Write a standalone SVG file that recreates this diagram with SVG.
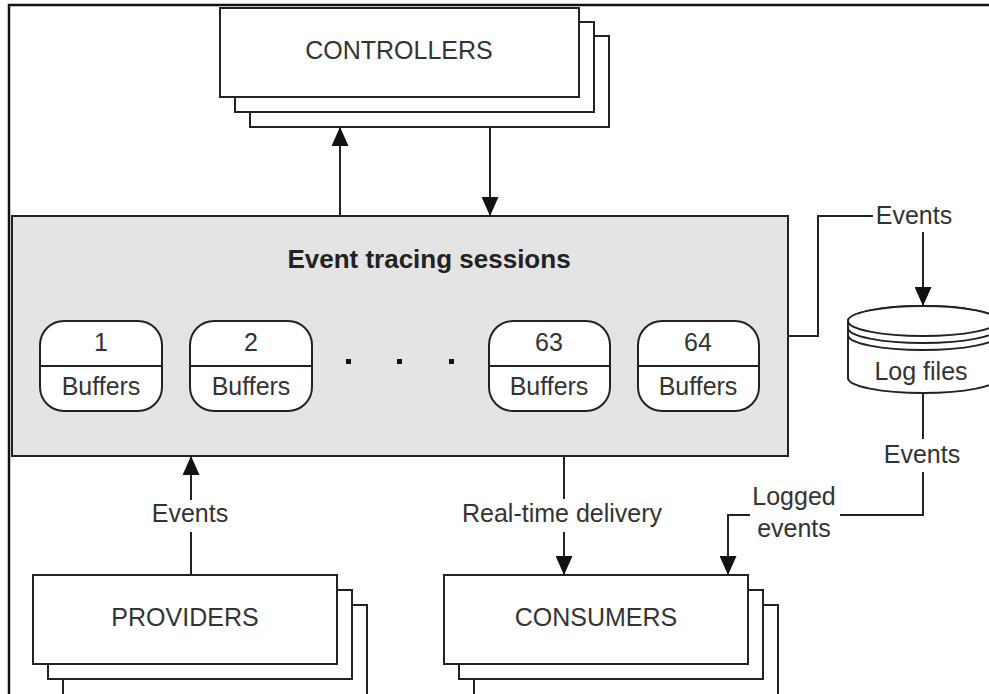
<svg xmlns="http://www.w3.org/2000/svg" width="989" height="694" viewBox="0 0 989 694">
  <style>
    .frame { fill: none; stroke: #111; stroke-width: 2.5; }
    .box { fill: #fff; stroke: #222; stroke-width: 2; }
    .session { fill: #e4e4e4; stroke: #222; stroke-width: 2; }
    .buf { fill: #fff; stroke: #222; stroke-width: 2; }
    .wire { fill: none; stroke: #222; stroke-width: 2; }
    text { font-family: "Liberation Sans", Arial, sans-serif; font-size: 25px; fill: #333; text-anchor: middle; }
    .title { font-weight: bold; font-size: 26px; fill: #222; }
    .dot { fill: #111; }
  </style>
  <defs>
    <marker id="arrow" markerUnits="userSpaceOnUse" markerWidth="20" markerHeight="17" refX="19" refY="8.5" orient="auto">
      <path d="M0,0 L19,8.5 L0,17 z" fill="#111"/>
    </marker>
  </defs>

  <rect width="989" height="694" fill="#fff"/>
  <!-- page frame (top and left edges only) -->
  <path class="frame" d="M9,694 V5 H989"/>

  <!-- controllers stack -->
  <g id="controllers">
    <rect class="box" x="250" y="36" width="359" height="91"/>
    <rect class="box" x="235" y="22" width="359" height="90"/>
    <rect class="box" x="220" y="8" width="359" height="89"/>
    <text x="399" y="59">CONTROLLERS</text>
  </g>

  <!-- event tracing sessions -->
  <g id="sessions">
    <rect class="session" x="12" y="216" width="776" height="240"/>
    <text class="title" x="429" y="268">Event tracing sessions</text>
    <rect class="dot" x="346" y="359" width="5" height="5"/>
    <rect class="dot" x="397" y="359" width="5" height="5"/>
    <rect class="dot" x="449" y="359" width="5" height="5"/>
  </g>

  <g id="buffer1">
    <rect class="buf" x="40" y="321" width="122" height="90" rx="24"/>
    <line class="wire" x1="40" y1="366" x2="162" y2="366"/>
    <text x="101" y="351">1</text>
    <text x="101" y="395">Buffers</text>
  </g>
  <g id="buffer2">
    <rect class="buf" x="190" y="321" width="122" height="90" rx="24"/>
    <line class="wire" x1="190" y1="366" x2="312" y2="366"/>
    <text x="251" y="351">2</text>
    <text x="251" y="395">Buffers</text>
  </g>
  <g id="buffer63">
    <rect class="buf" x="489" y="321" width="121" height="90" rx="24"/>
    <line class="wire" x1="489" y1="366" x2="610" y2="366"/>
    <text x="549" y="351">63</text>
    <text x="549" y="395">Buffers</text>
  </g>
  <g id="buffer64">
    <rect class="buf" x="638" y="321" width="121" height="90" rx="24"/>
    <line class="wire" x1="638" y1="366" x2="759" y2="366"/>
    <text x="698" y="351">64</text>
    <text x="698" y="395">Buffers</text>
  </g>

  <!-- log files cylinder -->
  <g id="logfiles">
    <path class="buf" d="M848,321 V378 A75,15 0 0 0 998,378 V321 A75,15 0 0 0 848,321 z"/>
    <ellipse class="buf" cx="923" cy="321" rx="75" ry="15"/>
    <path class="wire" d="M848,328 A75,15 0 0 0 998,328"/>
    <path class="wire" d="M848,335 A75,15 0 0 0 998,335"/>
    <text x="921" y="380">Log files</text>
  </g>

  <!-- providers stack -->
  <g id="providers">
    <rect class="box" x="63" y="605" width="304" height="100"/>
    <rect class="box" x="48" y="590" width="304" height="89"/>
    <rect class="box" x="33" y="575" width="304" height="89"/>
    <text x="185" y="626">PROVIDERS</text>
  </g>

  <!-- consumers stack -->
  <g id="consumers">
    <rect class="box" x="474" y="605" width="304" height="100"/>
    <rect class="box" x="459" y="590" width="304" height="89"/>
    <rect class="box" x="444" y="575" width="304" height="89"/>
    <text x="596" y="626">CONSUMERS</text>
  </g>

  <!-- connectors -->
  <g id="connectors">
    <path class="wire" d="M340,216 V127" marker-end="url(#arrow)"/>
    <path class="wire" d="M490,127 V216" marker-end="url(#arrow)"/>

    <path class="wire" d="M191,575 V532"/>
    <path class="wire" d="M191,500 V456" marker-end="url(#arrow)"/>
    <text x="190" y="522">Events</text>

    <path class="wire" d="M564,456 V499"/>
    <path class="wire" d="M564,532 V575" marker-end="url(#arrow)"/>
    <text x="562" y="522">Real-time delivery</text>

    <path class="wire" d="M788,336 H818 V216 H873"/>
    <text x="914" y="224">Events</text>
    <path class="wire" d="M923,232 V306" marker-end="url(#arrow)"/>

    <path class="wire" d="M923,393 V439"/>
    <text x="922" y="463">Events</text>
    <path class="wire" d="M923,472 V515 H840"/>
    <path class="wire" d="M750,515 H728 V575" marker-end="url(#arrow)"/>
    <text x="794" y="505">Logged</text>
    <text x="794" y="537">events</text>
  </g>
</svg>
